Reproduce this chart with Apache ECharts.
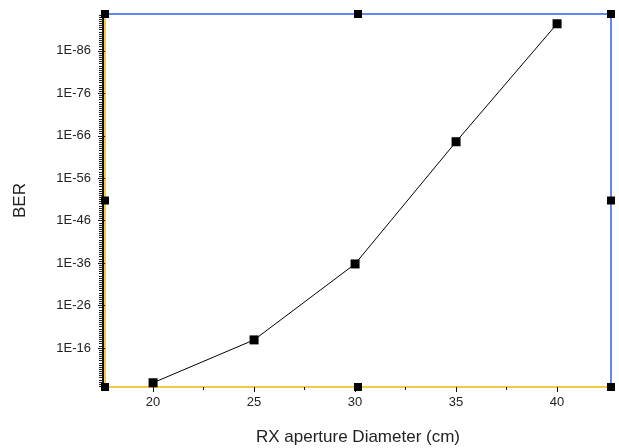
<!DOCTYPE html>
<html>
<head>
<meta charset="utf-8">
<script src="https://cdn.jsdelivr.net/npm/echarts@6/dist/echarts.min.js"></script>
<style>
	body { margin: 0; background: #fff; }
	#main { width: 619px; height: 448px; }
</style>
</head>
<body>
<div id="main"></div>
<script>
// RX aperture diameter (cm)
var diameters = [20, 25, 30, 35, 40];
// BER exponent, BER = 1E-value
var berExponents = [7.8, 17.9, 35.8, 64.6, 92.4];

var xTicks = [20, 25, 30, 35, 40];
var xMinorTicks = [22.5, 27.5, 32.5, 37.5];
var yTicks = [16, 26, 36, 46, 56, 66, 76, 86];

var X_MIN = 17.62, X_MAX = 42.67;
var Y_MIN = 6.8, Y_MAX = 94.7;

var GRID = { left: 105, right: 8, top: 14, bottom: 61 };
var W = 619, H = 448;

var AXIS_YELLOW = '#f7c843';
var AXIS_BLUE = '#2f5ff0';
var FONT = 'Liberation Sans, Arial, sans-serif';

// dense minor ticks on the left axis
var yMinorTicks = [];
for (var v = 7; v < Y_MAX; v += 0.5) {
	yMinorTicks.push(v);
}

var myChart = echarts.init(document.getElementById('main'));

function handles() {
	var l = GRID.left, r = W - GRID.right, t = GRID.top, b = H - GRID.bottom;
	var cx = (l + r) / 2, cy = (t + b) / 2;
	var pts = [[l, t], [cx, t], [r, t], [l, cy], [r, cy], [l, b], [cx, b], [r, b]];
	var out = [];
	for (var i = 0; i < pts.length; i++) {
		out.push({
			type: 'rect',
			shape: { x: pts[i][0] - 4, y: pts[i][1] - 4, width: 8, height: 8 },
			style: { fill: '#000' },
			z: 100
		});
	}
	return out;
}

var option = {
	animation: false,
	backgroundColor: '#fff',
	grid: {
		left: GRID.left,
		right: GRID.right,
		top: GRID.top,
		bottom: GRID.bottom,
		containLabel: false,
		outerBoundsMode: 'none'
	},
	xAxis: [{
		type: 'value',
		position: 'bottom',
		min: X_MIN,
		max: X_MAX,
		name: 'RX aperture Diameter (cm)',
		nameLocation: 'middle',
		nameGap: 42,
		nameTextStyle: { fontFamily: FONT, fontSize: 17, color: '#222' },
		axisLine: { show: true, lineStyle: { color: AXIS_YELLOW, width: 2 } },
		axisTick: { show: true, customValues: xTicks, length: 5, lineStyle: { color: '#111' } },
		axisLabel: { customValues: xTicks, fontFamily: FONT, fontSize: 13, color: '#222', margin: 9 },
		splitLine: { show: false }
	}, {
		type: 'value',
		position: 'bottom',
		min: X_MIN,
		max: X_MAX,
		axisLine: { show: false },
		axisTick: { show: true, customValues: xMinorTicks, length: 3, lineStyle: { color: '#111' } },
		axisLabel: { show: false },
		splitLine: { show: false }
	}, {
		type: 'value',
		position: 'top',
		min: X_MIN,
		max: X_MAX,
		axisLine: { show: true, lineStyle: { color: AXIS_BLUE, width: 1.5 } },
		axisTick: { show: false },
		axisLabel: { show: false },
		splitLine: { show: false }
	}],
	yAxis: [{
		type: 'value',
		position: 'left',
		min: Y_MIN,
		max: Y_MAX,
		name: 'BER',
		nameLocation: 'middle',
		nameGap: 76,
		nameTextStyle: { fontFamily: FONT, fontSize: 17, color: '#222' },
		axisLine: { show: true, lineStyle: { color: AXIS_YELLOW, width: 2 } },
		axisTick: { show: true, customValues: yTicks, length: 7, lineStyle: { color: '#111' } },
		axisLabel: {
			customValues: yTicks,
			fontFamily: FONT,
			fontSize: 13,
			color: '#222',
			margin: 14,
			formatter: function(val) {
				return '1E-' + val;
			}
		},
		splitLine: { show: false }
	}, {
		type: 'value',
		position: 'left',
		offset: 2,
		min: Y_MIN,
		max: Y_MAX,
		axisLine: { show: true, lineStyle: { color: '#111', width: 2 } },
		axisTick: { show: true, customValues: yMinorTicks, length: 4, lineStyle: { color: '#222' } },
		axisLabel: { show: false },
		splitLine: { show: false }
	}, {
		type: 'value',
		position: 'right',
		min: Y_MIN,
		max: Y_MAX,
		axisLine: { show: true, lineStyle: { color: AXIS_BLUE, width: 1.5 } },
		axisTick: { show: false },
		axisLabel: { show: false },
		splitLine: { show: false }
	}],
	series: [{
		type: 'line',
		xAxisIndex: 0,
		yAxisIndex: 0,
		data: diameters.map(function(d, i) {
			return [d, berExponents[i]];
		}),
		symbol: 'rect',
		symbolSize: 9,
		itemStyle: { color: '#000' },
		lineStyle: { color: '#000', width: 1 },
		z: 10
	}],
	graphic: handles()
};

myChart.setOption(option);
</script>
</body>
</html>
